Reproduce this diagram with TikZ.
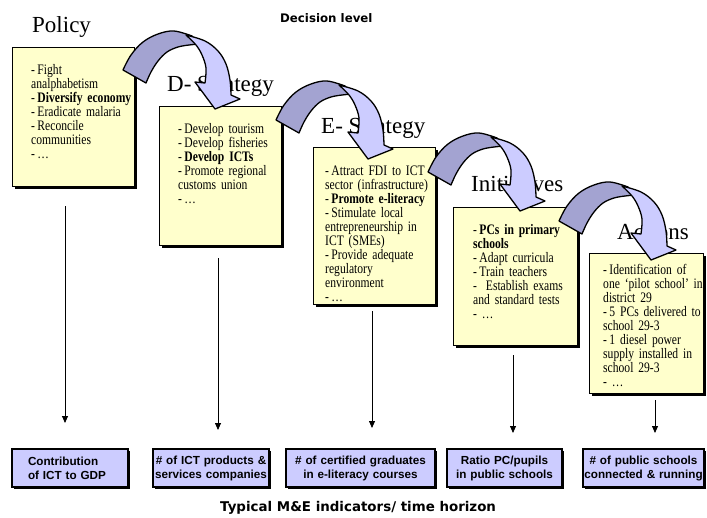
\documentclass[tikz,border=0pt]{standalone}
\usepackage{fontspec}
\setmainfont{Liberation Serif}
\newfontfamily\condserif[FakeStretch=0.8]{Liberation Serif}
\newfontfamily\arialfam{Liberation Sans}
\newfontfamily\verdfam{DejaVu Sans}
\usetikzlibrary{arrows.meta,shadows}
\definecolor{boxyellow}{HTML}{FFFFCC}
\definecolor{boxblue}{HTML}{CCCCFF}
\definecolor{arrdark}{HTML}{A3A3D1}
\definecolor{arrlight}{HTML}{CCCCFF}
\newcommand\curvedarrow[2]{%
\begin{scope}[shift={(#1,#2)}]
\filldraw[darkpart] plot[smooth,tension=0.6] coordinates {(123,70) (131,55) (143,42) (158,34) (174,31) (192,36)} -- (198,44)
  -- plot[smooth,tension=0.6] coordinates {(189,45) (178,47) (167,52) (158,61) (151,72) (146,83)} -- cycle;
\filldraw[lightpart] plot[smooth,tension=0.6] coordinates {(186,35) (205,41) (218,51) (226,64) (230,80) (231,95)} -- (240,99) -- (215,109) -- (195,82)
  -- plot[smooth,tension=0.6] coordinates {(205,83) (206,68) (202,55) (196,45) (186,35)} -- cycle;
\end{scope}}
\begin{document}
\begin{tikzpicture}[x=1pt,y=-1pt,
 ybox/.style={draw=black, line width=1.2pt, fill=boxyellow, general shadow={fill=black, shadow xshift=2pt, shadow yshift=-2pt}, inner sep=0pt, anchor=north west},
 btext/.style={anchor=north west, inner sep=0pt, align=left, text width=118pt, font=\condserif\fontsize{14.5}{14}\selectfont},
 ttl/.style={anchor=base west, inner sep=0pt, font=\fontsize{23}{26}\selectfont},
 ind/.style={draw=black, line width=1.2pt, fill=boxblue, general shadow={fill=black, shadow xshift=2pt, shadow yshift=-2pt}, inner ysep=0pt, inner xsep=1pt, minimum height=38pt, font=\arialfam\bfseries\fontsize{11.7}{14}\selectfont, align=center},
 vline/.style={line width=0.8pt, -{Triangle[length=7pt,width=6pt]}},
 darkpart/.style={fill=arrdark, draw=black, line width=1.3pt, line join=round},
 lightpart/.style={fill=arrlight, draw=black, line width=1.3pt, line join=round},
 hdr/.style={anchor=base west, inner sep=0pt, font=\verdfam\bfseries\fontsize{11.8}{14}\selectfont}]
\useasboundingbox (0,0) rectangle (707,517);
\fill[white] (0,0) rectangle (707,517);

% yellow boxes
\node[ybox, minimum width=122pt, minimum height=139pt] (pol) at (12,47) {};
\node[ybox, minimum width=122pt, minimum height=139pt] (dst) at (159,106) {};
\node[ybox, minimum width=122pt, minimum height=157pt] (est) at (313,147) {};
\node[ybox, minimum width=124pt, minimum height=138pt] (ini) at (453,207) {};
\node[ybox, minimum width=114pt, minimum height=140pt] (act) at (589,253) {};

% box texts
\node[btext] (poltxt) at (31,64) {-\,Fight\\analphabetism\\-\,\textbf{Diversify economy}\\-\,Eradicate malaria\\-\,Reconcile\\communities\\-\,…};
\node[btext] (dsttxt) at (178,123) {-\,Develop tourism\\-\,Develop fisheries\\-\,\textbf{Develop ICTs}\\-\,Promote regional\\customs union\\-\,…};
\node[btext] (esttxt) at (325,166) {-\,Attract FDI to ICT\\sector (infrastructure)\\-\,\textbf{Promote e-literacy}\\-\,Stimulate local\\entrepreneurship in\\ICT (SMEs)\\-\,Provide adequate\\regulatory\\environment\\-\,…};
\node[btext] (initxt) at (473,224) {-\,\textbf{PCs in primary}\\\textbf{schools}\\-\,Adapt curricula\\-\,Train teachers\\-\; Establish exams\\and standard tests\\- …};
\node[btext] (acttxt) at (603,264) {-\,Identification of\\one ‘pilot school’ in\\district 29\\-\,5 PCs delivered to\\school 29-3\\-\,1 diesel power\\supply installed in\\school 29-3\\- …};

% titles
\node[ttl] (tpol) at (32,32) {Policy};
\node[ttl] (tdst) at (167,91) {D- Strategy};
\node[ttl] (test) at (321,133) {E- Strategy};
\node[ttl] (tini) at (471,191) {Initiatives};
\node[ttl] (tact) at (617,239) {Actions};

% curved arrows
\curvedarrow{0}{0}
\curvedarrow{153}{50}
\curvedarrow{305}{102}
\curvedarrow{436}{151}

% header / footer
\node[hdr] (dec) at (280,22) {Decision level};
\node[hdr, font=\verdfam\bfseries\fontsize{13.4}{16}\selectfont] (typ) at (220,511) {Typical M\&E indicators/ time horizon};

% indicator boxes
\node[ind, minimum width=116pt, text width=84pt, align=left, inner xsep=16pt] (b1) at (70,468) {Contribution\\of ICT to GDP};
\node[ind, minimum width=116pt, text width=114pt] (b2) at (211,468) {\# of ICT products \&\\services companies};
\node[ind, minimum width=149pt, text width=147pt] (b3) at (360.5,468) {\# of certified graduates\\in e-literacy courses};
\node[ind, minimum width=115pt, text width=113pt] (b4) at (504.5,468) {Ratio PC/pupils\\in public schools};
\node[ind, minimum width=121pt, text width=119pt] (b5) at (643.5,468) {\# of public schools\\connected \& running};

% vertical arrows
\coordinate (v1s) at (65,206);  \coordinate (v1e) at (65,423);
\coordinate (v2s) at (218,258); \coordinate (v2e) at (218,430);
\coordinate (v3s) at (372,311); \coordinate (v3e) at (372,428);
\coordinate (v4s) at (513,355); \coordinate (v4e) at (513,433);
\coordinate (v5s) at (655,400); \coordinate (v5e) at (655,433);
\draw[vline] (v1s) -- (v1e);
\draw[vline] (v2s) -- (v2e);
\draw[vline] (v3s) -- (v3e);
\draw[vline] (v4s) -- (v4e);
\draw[vline] (v5s) -- (v5e);
\end{tikzpicture}
\end{document}
